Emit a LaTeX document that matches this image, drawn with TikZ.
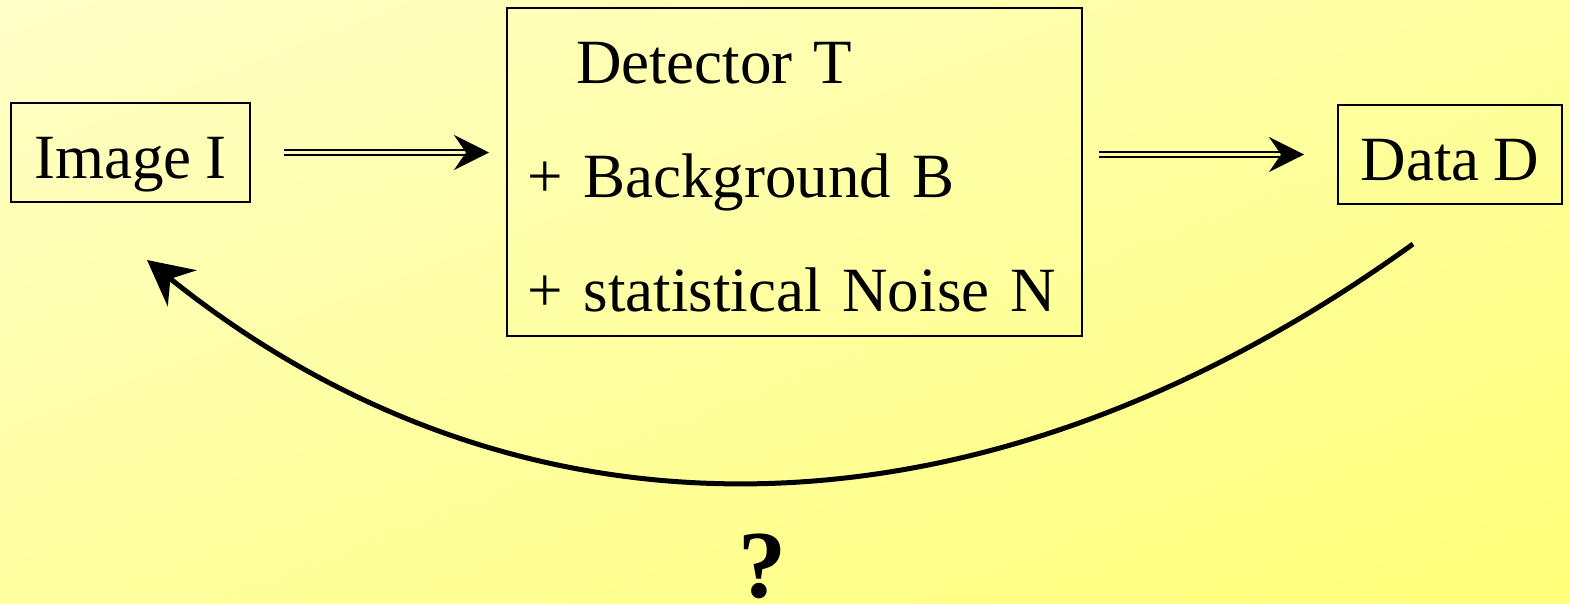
\documentclass[tikz,border=0pt]{standalone}
\usepackage{fontspec}
\setmainfont[WordSpace=0.88]{Liberation Serif}
\usetikzlibrary{arrows.meta,shadings}
\definecolor{bgTL}{RGB}{255,255,200}
\definecolor{bgMid}{RGB}{255,255,160}
\definecolor{bgBR}{RGB}{255,255,120}
\definecolor{gapA}{RGB}{255,255,182}
\definecolor{gapB}{RGB}{255,255,160}
\begin{document}
\begin{tikzpicture}[x=1pt,y=-1pt,
  box/.style={draw, line width=2pt, inner sep=0pt, font=\fontsize{63}{114}\selectfont},
  dbl/.style={line width=2.4pt, double=#1, double distance=3pt,
    -{Stealth[length=35pt,width=35pt,inset=12pt]}},
  curvearrow/.style={line width=5pt, -{Stealth[length=45pt,width=46pt,inset=15pt]}}]
\useasboundingbox (0,0) rectangle (1570,603);
\shade[upper left=bgTL, upper right=bgMid, lower left=bgMid, lower right=bgBR]
  (0,0) rectangle (1570,603);
\node[box, minimum width=239pt, minimum height=99pt, text height=51pt, text depth=0pt]
  (imgI) at (130.5,152.5) {Image I};
\node[box, minimum width=575pt, minimum height=328pt, text width=535pt, align=left]
  (det) at (794.5,172) {\mbox{\rule{0pt}{52pt}\hspace*{49pt}Detector T}\\\mbox{+ Background B}\\\mbox{+ statistical Noise N}};
\node[box, minimum width=224pt, minimum height=99pt, text height=51pt, text depth=0pt]
  (data) at (1450,154.5) {Data D};
\draw[dbl=gapA, shorten <=33pt, shorten >=17pt] (imgI.east) -- (imgI.east -| det.west);
\draw[dbl=gapB, shorten <=16pt, shorten >=33pt] (det.east |- data.west) -- (data.west);
\draw[curvearrow] ([shift={(-37,39)}]data.south) .. controls (978,558) and (518,558)
  .. ([shift={(16.5,57)}]imgI.south);
\node[font=\fontsize{96}{96}\selectfont\bfseries, anchor=base, inner sep=0pt]
  (q) at (762,597) {?};
\end{tikzpicture}
\end{document}
